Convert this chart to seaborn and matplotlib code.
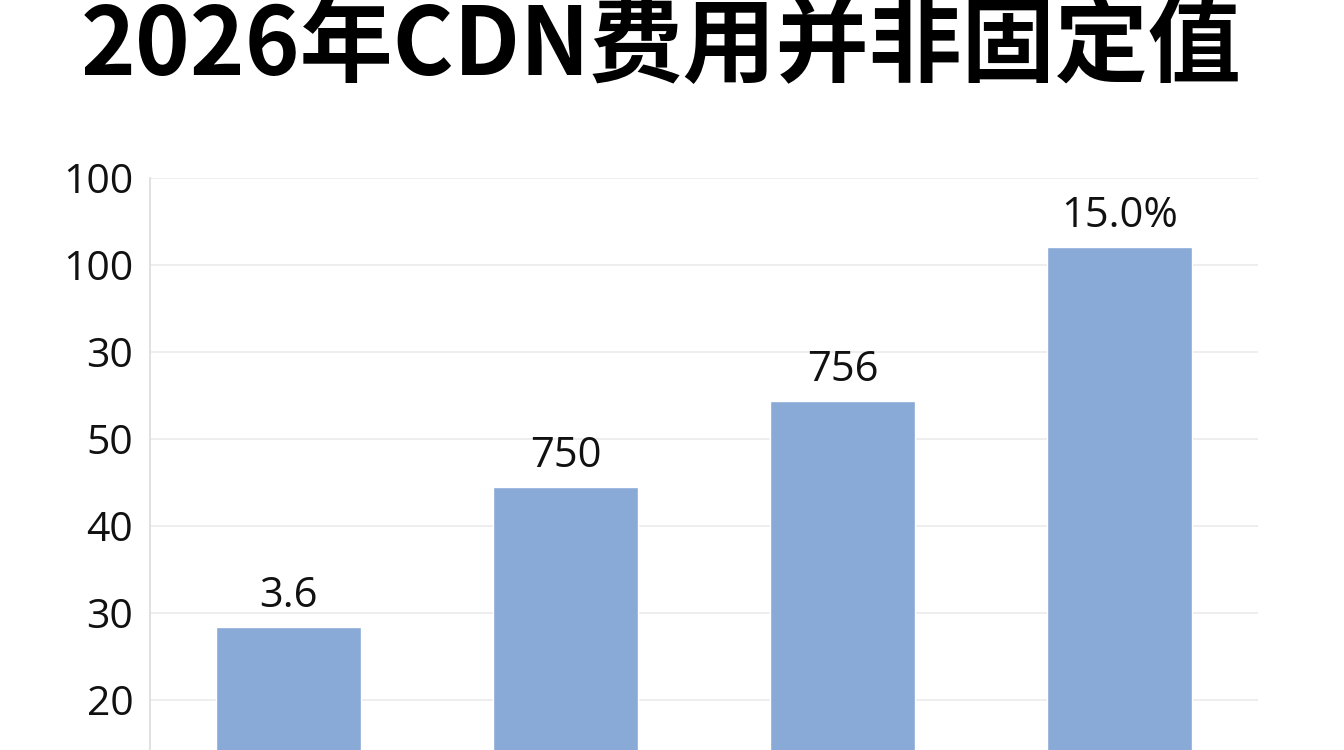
import matplotlib
matplotlib.use("Agg")
import matplotlib.pyplot as plt
import seaborn as sns
import pandas as pd

# chart data
title = "2026年CDN费用并非固定值"
categories = ["Q1", "Q2", "Q3", "Q4"]
bar_heights = [28.4, 44.5, 54.4, 72.1]
bar_labels = ["3.6", "750", "756", "15.0%"]
tick_values = [20, 30, 40, 50, 60, 70, 80]
tick_labels = ["20", "30", "40", "50", "30", "100", "100"]

sns.set_theme(style="white")
plt.rcParams["font.family"] = ["Open Sans", "Noto Sans CJK SC", "DejaVu Sans"]

df = pd.DataFrame({"category": categories, "value": bar_heights})

fig = plt.figure(figsize=(13.44, 7.5), dpi=100)
fig.patch.set_facecolor("white")
ax = fig.add_axes([150 / 1344, 0.0, (1258 - 150) / 1344, 1 - 178 / 750])

sns.barplot(data=df, x="category", y="value", color="#89a9d6", saturation=1,
            width=0.52, ax=ax, zorder=3)

ax.set_ylim(14.25, 80)
ax.set_xlim(-0.5, 3.5)
ax.set_yticks(tick_values)
ax.set_yticklabels(tick_labels, fontsize=29.5, color="#111111")
ax.tick_params(axis="y", length=0, pad=12)
ax.set_xticks([])
ax.set_xlabel("")
ax.set_ylabel("")
ax.yaxis.grid(True, color="#ebebeb", linewidth=1.2, zorder=0)
ax.set_axisbelow(True)
for side in ["top", "right", "bottom"]:
    ax.spines[side].set_visible(False)
ax.spines["left"].set_color("#dcdcdc")
ax.spines["left"].set_linewidth(1.2)

ax.bar_label(ax.containers[0], labels=bar_labels, padding=7, fontsize=30,
             color="#111111")

fig.text(0.492, 1 - 75 / 750, title, ha="center", va="baseline",
         fontsize=67, fontweight="bold", color="black",
         family=["Noto Sans CJK SC", "DejaVu Sans"])

fig.savefig("out.png", dpi=100, facecolor="white")
